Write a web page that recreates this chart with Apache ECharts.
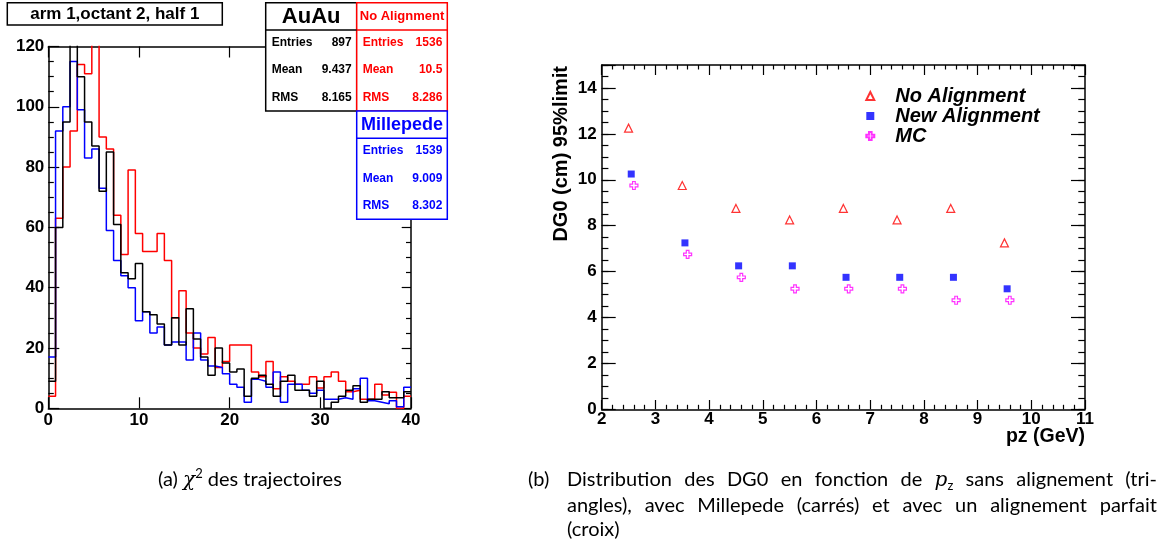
<!DOCTYPE html>
<html>
<head>
<meta charset="utf-8">
<script src="https://cdn.jsdelivr.net/npm/echarts/dist/echarts.min.js"></script>
<style>
body { margin: 0; background: #fff; }
.page { position: relative; width: 1165px; height: 543px; }
#chart { position: absolute; left: 0; top: 0; width: 1165px; height: 543px; }
.caption { position: absolute; font-family: Lato, "Liberation Sans", sans-serif; font-size: 20px; color: #000; line-height: 24.5px; }
.caption i { font-family: "DejaVu Serif", serif; }
.caption sup { font-size: 13px; vertical-align: 8px; line-height: 0; }
.caption sub { font-size: 13px; vertical-align: -4px; line-height: 0; }
.cap-a { left: 158px; top: 466px; white-space: nowrap; }
.cap-b { left: 528px; top: 466px; width: 629px; }
.cap-b .row { position: relative; padding-left: 39px; text-align: justify; text-align-last: justify; }
.cap-b .row.last { text-align-last: left; }
.cap-b .tag { position: absolute; left: 0; }
</style>
</head>
<body>
<div class="page">
    <div id="chart"></div>
    <div class="caption cap-a">(a) <i>χ</i><sup>2</sup> des trajectoires</div>
    <div class="caption cap-b">
        <div class="row"><span class="tag">(b)</span>Distribution des DG0 en fonction de <i>p</i><sub>z</sub> sans alignement (tri-</div>
        <div class="row">angles), avec Millepede (carrés) et avec un alignement parfait</div>
        <div class="row last">(croix)</div>
    </div>
</div>
<script>
// left panel: chi2 histograms, 50 bins of 0.8 from 0 to 40
const binWidth = 0.8
const auauCounts = [
    9, 60, 95, 125, 110, 95, 87, 72, 85, 61,
    45, 43, 48, 32, 31, 28, 21, 30, 21, 33,
    23, 17, 11, 20, 15, 12, 13, 4, 10, 11,
    8, 4, 9, 11, 6, 6, 4, 9, 0, 2,
    4, 6, 7.5, 2, 3, 3, 5.5, 3.5, 3.5, 5.5
]
const noAlignCounts = [
    4, 63, 80, 92, 114, 111, 125, 90, 86, 64,
    51, 79, 58, 52, 52, 58, 49, 30, 39, 25,
    20, 18, 23.5, 13.5, 15.5, 21, 21, 21, 12, 10.5,
    15.5, 6.5, 10.5, 9, 8, 8, 10.5, 6.7, 10.5, 12,
    9, 5.5, 6, 3, 3, 8, 4.4, 5.3, 0, 4
]
const milleCounts = [
    17, 92, 100, 115, 99, 83, 86, 73, 59, 49,
    44, 40, 29, 32, 25, 27, 21, 22, 22, 16,
    25, 16, 14, 13.5, 11.5, 8, 7, 2, 9.6, 9,
    7, 12, 2, 8, 8, 6, 5, 6, 3, 3,
    3.5, 3, 6.5, 10, 2.5, 2, 1.5, 2.5, 0.5, 7
]

// stat boxes
const statLabels = ['Entries', 'Mean', 'RMS']
const auauStats = ['897', '9.437', '8.165']
const noAlignStats = ['1536', '10.5', '8.286']
const milleStats = ['1539', '9.009', '8.302']

// right panel: DG0 95% limit vs pz
const pzNoAlign = [2.5, 3.5, 4.5, 5.5, 6.5, 7.5, 8.5, 9.5]
const dg0NoAlign = [12.25, 9.75, 8.75, 8.25, 8.75, 8.25, 8.75, 7.25]
const pzNewAlign = [2.55, 3.55, 4.55, 5.55, 6.55, 7.55, 8.55, 9.55]
const dg0NewAlign = [10.25, 7.25, 6.25, 6.25, 5.75, 5.75, 5.75, 5.25]
const pzMC = [2.6, 3.6, 4.6, 5.6, 6.6, 7.6, 8.6, 9.6]
const dg0MC = [9.75, 6.75, 5.75, 5.25, 5.25, 5.25, 4.75, 4.75]

const FONT = 'Liberation Sans'
const plusPath = 'path://M2,0H4V2H6V4H4V6H2V4H0V2H2Z'

function histSteps(counts) {
    let pts = counts.map((c, i) => [i * binWidth, c])
    pts.push([counts.length * binWidth, counts[counts.length - 1]])
    return pts
}

function zip(xs, ys) {
    return xs.map((x, i) => [x, ys[i]])
}

// one frame side of a ROOT-like plot
function frameAxis(cfg) {
    return {
        type: 'value',
        gridIndex: cfg.grid,
        position: cfg.position,
        min: cfg.min,
        max: cfg.max,
        interval: cfg.interval,
        axisLine: { show: cfg.line !== false, onZero: false, lineStyle: { color: '#000', width: 1.5 } },
        axisTick: { show: true, inside: true, length: cfg.tick, lineStyle: { color: '#000', width: 1.2 } },
        minorTick: {
            show: !!cfg.minor,
            splitNumber: cfg.minor || 5,
            length: cfg.minorLen || 5,
            lineStyle: { color: '#000', width: 1.2 }
        },
        axisLabel: {
            show: !!cfg.labels,
            margin: cfg.margin || 4,
            fontFamily: FONT,
            fontWeight: 'bold',
            fontSize: cfg.fontSize || 17,
            color: '#000',
            formatter: cfg.formatter
        },
        splitLine: { show: false },
        minorSplitLine: { show: false }
    }
}

function statBox(x, y, w, color, title, titleSize, values) {
    let els = []
    els.push({ type: 'rect', shape: { x: x, y: y, width: w, height: 108.3 }, style: { fill: '#fff', stroke: color, lineWidth: 1.5 }, z: 100 })
    els.push({ type: 'line', shape: { x1: x, y1: y + 27.3, x2: x + w, y2: y + 27.3 }, style: { stroke: color, lineWidth: 1.5 }, z: 101 })
    els.push({ type: 'text', x: x + w / 2, y: y + 13.8, style: { text: title, fill: color, font: 'bold ' + titleSize + 'px "' + FONT + '"', align: 'center', verticalAlign: 'middle' }, z: 102 })
    statLabels.forEach((lab, i) => {
        let ty = y + 40 + i * 27.3
        els.push({ type: 'text', x: x + 6, y: ty, style: { text: lab, fill: color, font: 'bold 12px "' + FONT + '"', align: 'left', verticalAlign: 'middle' }, z: 102 })
        els.push({ type: 'text', x: x + w - 5, y: ty, style: { text: values[i], fill: color, font: 'bold 12px "' + FONT + '"', align: 'right', verticalAlign: 'middle' }, z: 102 })
    })
    return els
}

let graphics = [
    { type: 'rect', shape: { x: 7.3, y: 2.7, width: 215, height: 22.3 }, style: { fill: '#fff', stroke: '#000', lineWidth: 1.5 }, z: 100 },
    { type: 'text', x: 114.8, y: 14.2, style: { text: 'arm 1,octant 2, half 1', fill: '#000', font: 'bold 17px "' + FONT + '"', align: 'center', verticalAlign: 'middle' }, z: 102 },
    { type: 'text', x: 561, y: 66, rotation: Math.PI / 2, style: { text: 'DG0 (cm) 95%limit', fill: '#000', font: 'bold 20px "' + FONT + '"', align: 'right', verticalAlign: 'middle' }, z: 102 },
    { type: 'text', x: 1085, y: 437, style: { text: 'pz (GeV)', fill: '#000', font: 'bold 19.5px "' + FONT + '"', align: 'right', verticalAlign: 'middle' }, z: 102 }
]
graphics = graphics
    .concat(statBox(265.7, 2.7, 91, '#000', 'AuAu', 22, auauStats))
    .concat(statBox(356.7, 2.7, 90.6, '#ff0000', 'No Alignment', 13, noAlignStats))
    .concat(statBox(356.7, 111, 90.6, '#0000ff', 'Millepede', 18, milleStats))

const evenOnly = v => (Math.abs(v % 2) < 1e-9 ? String(v) : '')

let option = {
    animation: false,
    backgroundColor: '#fff',
    grid: [
        { left: 48.3, top: 46.5, width: 362.7, height: 361.8 },
        { left: 601.7, top: 65, width: 483.3, height: 344.3 }
    ],
    xAxis: [
        frameAxis({ grid: 0, position: 'bottom', min: 0, max: 40, interval: 10, tick: 11, labels: true, margin: 4 }),
        frameAxis({ grid: 0, position: 'top', min: 0, max: 40, interval: 10, tick: 11 }),
        frameAxis({ grid: 1, position: 'bottom', min: 2, max: 11, interval: 1, tick: 9.3, minor: 5, minorLen: 4.5, labels: true, margin: 2 }),
        frameAxis({ grid: 1, position: 'top', min: 2, max: 11, interval: 1, tick: 10, minor: 5, minorLen: 4.5 })
    ],
    yAxis: [
        frameAxis({ grid: 0, position: 'left', min: 0, max: 120, interval: 20, tick: 11, minor: 4, minorLen: 5.5, labels: true, margin: 4 }),
        frameAxis({ grid: 0, position: 'right', min: 0, max: 120, interval: 20, tick: 9.3, minor: 4, minorLen: 5 }),
        frameAxis({ grid: 1, position: 'left', min: 0, max: 15, interval: 2, tick: 14, labels: true, margin: 5, formatter: evenOnly }),
        frameAxis({ grid: 1, position: 'left', min: 0, max: 15, interval: 0.5, tick: 6.7, line: false }),
        frameAxis({ grid: 1, position: 'right', min: 0, max: 15, interval: 2, tick: 14 }),
        frameAxis({ grid: 1, position: 'right', min: 0, max: 15, interval: 0.5, tick: 6.7, line: false })
    ],
    legend: {
        data: ['No Alignment', 'New Alignment', 'MC'],
        orient: 'vertical',
        left: 865.3,
        top: 86,
        padding: 0,
        itemWidth: 8,
        itemHeight: 8,
        itemGap: 0,
        selectedMode: false,
        textStyle: {
            fontFamily: FONT,
            fontWeight: 'bold',
            fontStyle: 'italic',
            fontSize: 20,
            lineHeight: 19,
            color: '#000',
            padding: [0, 0, 0, 16]
        }
    },
    graphic: { elements: graphics },
    series: [
        {
            name: 'No Alignment (hist)', type: 'line', step: 'end', xAxisIndex: 0, yAxisIndex: 0,
            showSymbol: false, symbol: 'none', clip: true, silent: true,
            lineStyle: { color: '#ff0000', width: 1.5 },
            data: histSteps(noAlignCounts)
        },
        {
            name: 'Millepede', type: 'line', step: 'end', xAxisIndex: 0, yAxisIndex: 0,
            showSymbol: false, symbol: 'none', clip: true, silent: true,
            lineStyle: { color: '#0000ff', width: 1.5 },
            data: histSteps(milleCounts)
        },
        {
            name: 'AuAu', type: 'line', step: 'end', xAxisIndex: 0, yAxisIndex: 0,
            showSymbol: false, symbol: 'none', clip: true, silent: true,
            lineStyle: { color: '#000', width: 1.5 },
            data: histSteps(auauCounts)
        },
        {
            name: 'No Alignment', type: 'scatter', xAxisIndex: 2, yAxisIndex: 2,
            symbol: 'triangle', symbolSize: 8,
            itemStyle: { color: 'rgba(255,255,255,0)', borderColor: '#ff0000', borderWidth: 1.2 },
            data: zip(pzNoAlign, dg0NoAlign)
        },
        {
            name: 'New Alignment', type: 'scatter', xAxisIndex: 2, yAxisIndex: 2,
            symbol: 'rect', symbolSize: 7,
            itemStyle: { color: '#0000ff' },
            data: zip(pzNewAlign, dg0NewAlign)
        },
        {
            name: 'MC', type: 'scatter', xAxisIndex: 2, yAxisIndex: 2,
            symbol: plusPath, symbolSize: 8,
            itemStyle: { color: 'rgba(255,255,255,0)', borderColor: '#ff00ff', borderWidth: 1.2 },
            data: zip(pzMC, dg0MC)
        }
    ]
}

let chart = echarts.init(document.getElementById('chart'))
chart.setOption(option)
</script>
</body>
</html>
